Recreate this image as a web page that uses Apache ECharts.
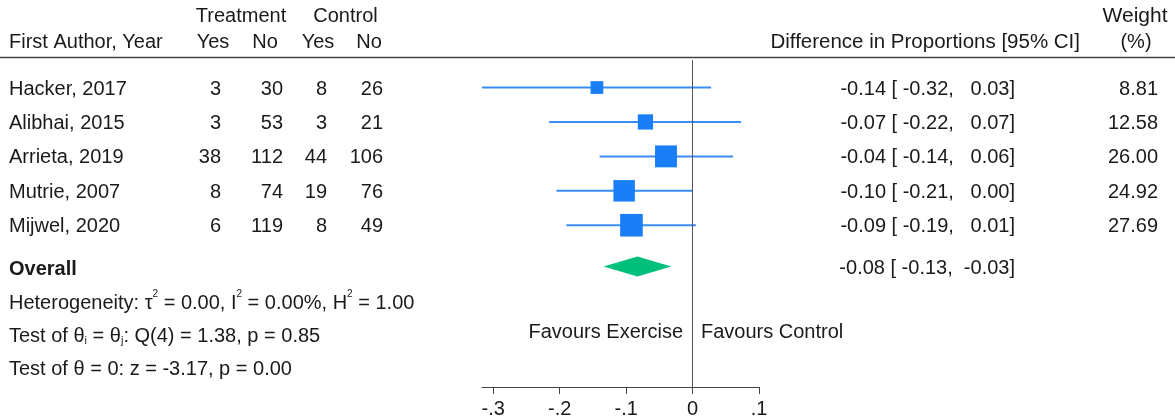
<!DOCTYPE html>
<html><head><meta charset="utf-8">
<script src="https://cdn.jsdelivr.net/npm/echarts@6/dist/echarts.min.js"></script>
<style>html,body{margin:0;padding:0;background:#fff}#c{width:1175px;height:419px}</style>
</head><body><div id="c"></div>
<script>
// ---- data ----
const studies = ['Hacker, 2017', 'Alibhai, 2015', 'Arrieta, 2019', 'Mutrie, 2007', 'Mijwel, 2020'];
const treatYes = [3, 3, 38, 8, 6];
const treatNo = [30, 53, 112, 74, 119];
const ctrlYes = [8, 3, 44, 19, 8];
const ctrlNo = [26, 21, 106, 76, 49];
const estimates = [-0.144, -0.071, -0.040, -0.103, -0.092];
const ciLow = [-0.317, -0.216, -0.140, -0.205, -0.190];
const ciHigh = [0.028, 0.073, 0.061, 0.000, 0.005];
const ciLabels = ['-0.14 [ -0.32,   0.03]', '-0.07 [ -0.22,   0.07]', '-0.04 [ -0.14,   0.06]', '-0.10 [ -0.21,   0.00]', '-0.09 [ -0.19,   0.01]'];
const weightLabels = ['8.81', '12.58', '26.00', '24.92', '27.69'];
const weights = [8.81, 12.58, 26.00, 24.92, 27.69];
const overallEst = -0.083;
const overallLow = -0.134;
const overallHigh = -0.032;
const overallLabel = '-0.08 [ -0.13,  -0.03]';
const xTicks = [-0.3, -0.2, -0.1, 0, 0.1];
const tickLabels = ['-.3', '-.2', '-.1', '0', '.1'];

// ---- layout / style ----
const FONT = '"Liberation Sans", Arial, Helvetica, sans-serif';
const TXT = '#1a1a1a';
const overallRow = 5.2;

const chart = echarts.init(document.getElementById('c'), null, { renderer: 'canvas' });

const option = {
  animation: false,
  backgroundColor: '#fff',
  grid: { left: 482, right: 416, top: 60, bottom: 32 },
  xAxis: {
    type: 'value',
    min: Math.min(...ciLow),
    max: 0.1,
    splitLine: { show: false },
    axisLine: { show: true, onZero: false, lineStyle: { color: '#444', width: 1 } },
    axisTick: { show: true, length: 7, customValues: xTicks, lineStyle: { color: '#444', width: 1 } },
    axisLabel: {
      customValues: xTicks,
      fontSize: 20, fontFamily: FONT, color: TXT, margin: 12,
      formatter: v => {
        const k = xTicks.findIndex(t => Math.abs(t - v) < 1e-9);
        return k >= 0 ? tickLabels[k] : '';
      }
    }
  },
  yAxis: { type: 'value', min: -0.8, max: 8.7, inverse: true, show: false },
  series: [
    {
      type: 'custom',
      z: 2,
      data: studies.map((s, i) => [ciLow[i], ciHigh[i], i]),
      encode: { x: [0, 1], y: 2 },
      renderItem(params, api) {
        const p1 = api.coord([api.value(0), api.value(2)]);
        const p2 = api.coord([api.value(1), api.value(2)]);
        return { type: 'line', shape: { x1: p1[0], y1: p1[1], x2: p2[0], y2: p2[1] },
                 style: { stroke: '#3a8ef3', lineWidth: 2 } };
      }
    },
    {
      type: 'scatter',
      z: 3,
      symbol: 'rect',
      data: estimates.map((e, i) => [e, i, weights[i]]),
      symbolSize: d => 4.3 * Math.sqrt(d[2]),
      itemStyle: { color: '#1a7ef6', opacity: 1 },
      markLine: {
        silent: true, symbol: 'none', label: { show: false },
        lineStyle: { color: '#555', width: 1, type: 'solid' },
        data: [{ xAxis: 0 }]
      }
    },
    {
      type: 'custom',
      z: 3,
      data: [[overallLow, overallEst, overallHigh, overallRow]],
      encode: { x: [0, 1, 2], y: 3 },
      renderItem(params, api) {
        const l = api.coord([api.value(0), api.value(3)]);
        const c = api.coord([api.value(1), api.value(3)]);
        const r = api.coord([api.value(2), api.value(3)]);
        const h = 10;
        return { type: 'polygon',
                 shape: { points: [[l[0], l[1]], [c[0], c[1] - h], [r[0], r[1]], [c[0], c[1] + h]] },
                 style: { fill: '#00c07c' } };
      }
    }
  ]
};
chart.setOption(option);

const yOf = r => chart.convertToPixel({ gridIndex: 0 }, [0, r])[1];
function t(text, x, y, align, extra) {
  return {
    type: 'text', silent: true,
    style: Object.assign({ text: String(text), x, y, align, verticalAlign: 'middle',
      fontSize: 20, fontFamily: FONT, fill: TXT }, extra || {})
  };
}
const g = [];
// header rule
g.push({ type: 'line', silent: true, shape: { x1: 0, y1: 57.5, x2: 1175, y2: 57.5 }, style: { stroke: '#444', lineWidth: 1.5 } });
// headers
g.push(t('Treatment', 241, 16, 'center'));
g.push(t('Control', 345.5, 16, 'center'));
g.push(t('Weight', 1135, 16, 'center', { fontSize: 21 }));
g.push(t('First Author, Year', 9, 42, 'left'));
g.push(t('Yes', 213, 42, 'center'));
g.push(t('No', 265, 42, 'center'));
g.push(t('Yes', 318, 42, 'center'));
g.push(t('No', 369, 42, 'center'));
g.push(t('Difference in Proportions [95% CI]', 1080, 42, 'right', { fontSize: 20.5 }));
g.push(t('(%)', 1136, 42, 'center'));
// study rows
studies.forEach((s, i) => {
  const y = yOf(i) + 1.5;
  g.push(t(s, 9, y, 'left'));
  g.push(t(treatYes[i], 221, y, 'right'));
  g.push(t(treatNo[i], 283, y, 'right'));
  g.push(t(ctrlYes[i], 327, y, 'right'));
  g.push(t(ctrlNo[i], 383, y, 'right'));
  g.push(t(ciLabels[i], 1015, y, 'right'));
  g.push(t(weightLabels[i], 1158, y, 'right'));
});
// overall
g.push(t('Overall', 9, yOf(overallRow) + 2.5, 'left', { fontWeight: 'bold' }));
g.push(t(overallLabel, 1015, yOf(overallRow) + 2, 'right'));
const rich = {
  sup: { fontSize: 10, fontFamily: FONT, fill: TXT, padding: [0, 0, 18, 0], verticalAlign: 'middle' },
  sub: { fontSize: 11, fontFamily: FONT, fill: TXT, padding: [9, 0, 0, 0], verticalAlign: 'middle' }
};
g.push(t('Heterogeneity: τ{sup|2} = 0.00, I{sup|2} = 0.00%, H{sup|2} = 1.00', 9, yOf(6.23) + 1.5, 'left', { rich }));
g.push(t('Test of θ{sub|i} = θ{sub|j}: Q(4) = 1.38, p = 0.85', 9, yOf(7.19) + 1.5, 'left', { rich }));
g.push(t('Test of θ = 0: z = -3.17, p = 0.00', 9, yOf(8.15) + 1.5, 'left'));
// favours
g.push(t('Favours Exercise', 683, yOf(7.07) + 2, 'right'));
g.push(t('Favours Control', 701, yOf(7.07) + 2, 'left'));

chart.setOption({ graphic: g });
</script>
</body></html>
